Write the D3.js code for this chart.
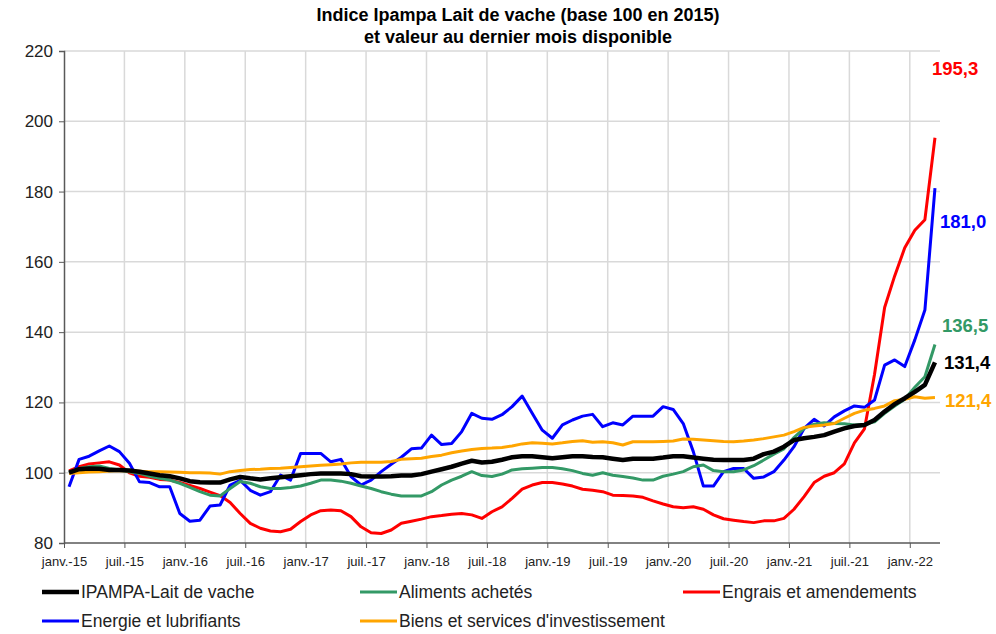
<!DOCTYPE html>
<html>
<head>
<meta charset="utf-8">
<script src="https://cdn.jsdelivr.net/npm/d3@7/dist/d3.min.js"></script>
<style>
  body { margin: 0; background: #fff; }
  text { font-family: "Liberation Sans", Arial, sans-serif; }
</style>
</head>
<body>
<div id="chart-area"></div>
<script>
// Monthly categories, janv. 2015 -> mars 2022
const months = d3.range(87).map(i => `${2015 + Math.floor(i / 12)}-${(i % 12) + 1}`);
const tickLabels = ["janv.-15", "juil.-15", "janv.-16", "juil.-16", "janv.-17", "juil.-17", "janv.-18",
  "juil.-18", "janv.-19", "juil.-19", "janv.-20", "juil.-20", "janv.-21", "juil.-21", "janv.-22"];
const yTicks = [80, 100, 120, 140, 160, 180, 200, 220];

const ipampa = [100, 101, 101.2, 101.1, 100.8, 100.8, 100.6, 100.3, 99.8, 99.3, 99, 98.4,
  97.6, 97.3, 97.2, 97.2, 98.1, 98.8, 98.4, 98.1, 98.4, 98.7, 99, 99.3,
  99.6, 99.8, 99.8, 99.8, 99.6, 99, 98.9, 98.9, 99, 99.2, 99.2, 99.6,
  100.3, 101, 101.7, 102.6, 103.4, 102.9, 103.1, 103.7, 104.4, 104.7, 104.7, 104.4,
  104.1, 104.4, 104.7, 104.7, 104.5, 104.4, 104, 103.6, 104, 104, 104, 104.3,
  104.7, 104.7, 104.3, 104, 103.7, 103.6, 103.6, 103.6, 104, 105.3, 106, 107.4,
  109.3, 109.8, 110.2, 110.7, 111.7, 112.6, 113.3, 113.6, 115, 117.4, 119.5, 121.2,
  123, 125, 131.4];
const aliments = [100, 101.2, 101.7, 101.9, 101.2, 100.8, 100.3, 99.8, 99, 98.4, 97.9, 97,
  95.8, 94.6, 93.6, 93.4, 95.5, 97.5, 97, 96, 95.5, 95.5, 95.8, 96.2,
  97, 97.9, 97.9, 97.6, 97, 96.2, 95.5, 94.6, 93.9, 93.4, 93.4, 93.4,
  94.6, 96.5, 97.9, 99, 100.3, 99.2, 98.9, 99.6, 100.8, 101.1, 101.3, 101.5,
  101.5, 101.1, 100.6, 99.8, 99.3, 100, 99.3, 98.9, 98.5, 97.9, 97.9, 99,
  99.6, 100.3, 101.7, 102.2, 100.6, 100.3, 100.3, 100.8, 102, 103.6, 105.3, 106.8,
  110, 112.6, 113.8, 114.2, 114, 113.9, 113.6, 113.8, 114.5, 116.9, 119, 120.9,
  124.3, 127.3, 136.5];
const engrais = [100.5, 101.7, 102.5, 102.8, 103.1, 102.2, 100, 99, 98.7, 98.1, 97.9, 97.2,
  96.4, 95.5, 94.5, 93.5, 91.5, 88.4, 85.6, 84.2, 83.4, 83.2, 83.9, 86.1,
  88, 89.2, 89.4, 89.2, 87.5, 84.6, 82.9, 82.7, 83.7, 85.6, 86.2, 86.8,
  87.5, 87.8, 88.2, 88.4, 88, 87, 88.9, 90.3, 92.7, 95.3, 96.5, 97.2,
  97.2, 96.8, 96.2, 95.3, 95, 94.6, 93.6, 93.5, 93.4, 93, 92, 91.1,
  90.3, 90, 90.3, 89.6, 88, 86.9, 86.5, 86.1, 85.8, 86.3, 86.3, 87,
  89.6, 93.2, 97.2, 99, 100, 102.5, 108.5, 112.5, 128, 147, 156, 164,
  169, 172, 195.3];
const energie = [96, 103.8, 104.7, 106.2, 107.6, 106, 102.7, 97.4, 97.2, 96, 96, 88.4,
  86.2, 86.5, 90.5, 90.8, 96.5, 97.8, 95, 93.6, 94.6, 99.3, 97.9, 105.5,
  105.5, 105.5, 103.1, 103.8, 98.9, 96.5, 97.9, 100.3, 102.4, 104.4, 106.8, 107,
  110.7, 108, 108.3, 111.7, 116.9, 115.5, 115.2, 116.5, 118.8, 121.8, 116.9, 112.1,
  109.8, 113.6, 115, 116.1, 116.6, 113.1, 114.2, 113.6, 116.1, 116.1, 116.1, 118.8,
  118, 114, 106, 96.2, 96.2, 100.3, 101.2, 101.2, 98.4, 98.8, 100.3, 103.6,
  107.4, 112.6, 115.2, 113.3, 115.9, 117.6, 119, 118.6, 120.7, 130.6, 132.1, 130.2,
  137.8, 146.3, 181];
const biens = [99.8, 100, 100.2, 100.3, 100.5, 100.6, 100.5, 100.4, 100.3, 100.3, 100.2, 100.1,
  100, 100, 99.9, 99.6, 100.3, 100.6, 100.9, 101, 101.2, 101.3, 101.5, 101.7,
  101.9, 102.1, 102.3, 102.5, 102.8, 103, 103, 103, 103.2, 103.8, 104, 104.1,
  104.6, 105, 105.7, 106.2, 106.6, 106.9, 107, 107.2, 107.6, 108.2, 108.5, 108.4,
  108.2, 108.5, 108.9, 109.1, 108.7, 108.8, 108.5, 107.9, 108.8, 108.8, 108.8, 108.9,
  109, 109.6, 109.5, 109.3, 109.1, 108.9, 108.8, 109, 109.3, 109.7, 110.2, 110.7,
  111.7, 112.9, 113.3, 113.6, 114, 115.5, 116.9, 117.8, 118.3, 119, 120.5, 120.9,
  121.6, 121.2, 121.4];

const seriesNames = ["IPAMPA-Lait de vache", "Aliments achetés", "Engrais et amendements",
  "Energie et lubrifiants", "Biens et services d'investissement"];
const seriesValues = [ipampa, aliments, engrais, energie, biens];
const lastLabels = ["131,4", "136,5", "195,3", "181,0", "121,4"];

// styles, drawing order and label / legend placement
const colors = ["#000000", "#339966", "#ff0000", "#0000ff", "#ffa500"];
const widths = [4.5, 3, 3, 3, 3];
const drawOrder = [2, 3, 1, 4, 0];
const labelOffset = [[9, 0], [7, -19], [-3, -69], [5, 33], [10, 3]];
const legendPos = [[42, 592], [360, 592], [683, 592], [42, 621], [360, 621]];

const W = 996, H = 634;
const plotLeft = 64, plotRight = 940, plotTop = 51, plotBottom = 543;

const svg = d3.select("#chart-area").append("svg")
  .attr("width", W)
  .attr("height", H);

const x = d3.scaleBand().domain(months).range([plotLeft, plotRight]).padding(0);
const y = d3.scaleLinear().domain([80, 220]).range([plotBottom, plotTop]);
const cx = m => x(m) + x.bandwidth() / 2;

// title
svg.append("text")
  .attr("x", 518).attr("y", 21)
  .attr("text-anchor", "middle")
  .style("font-weight", "bold").style("font-size", "18px")
  .text("Indice Ipampa Lait de vache (base 100 en 2015)");
svg.append("text")
  .attr("x", 518).attr("y", 43)
  .attr("text-anchor", "middle")
  .style("font-weight", "bold").style("font-size", "18px")
  .text("et valeur au dernier mois disponible");

// gridlines
const tickMonths = months.filter((m, i) => i % 6 === 0);
svg.append("g").selectAll("line")
  .data(yTicks.slice(1))
  .join("line")
  .attr("x1", plotLeft).attr("x2", plotRight)
  .attr("y1", d => y(d)).attr("y2", d => y(d))
  .attr("stroke", "#d9d9d9").attr("stroke-width", 1.5);
svg.append("g").selectAll("line")
  .data(tickMonths.slice(1))
  .join("line")
  .attr("x1", d => x(d)).attr("x2", d => x(d))
  .attr("y1", plotTop).attr("y2", plotBottom)
  .attr("stroke", "#d9d9d9").attr("stroke-width", 1.5);

// y axis
const yAxis = svg.append("g")
  .attr("transform", `translate(${plotLeft},0)`)
  .call(d3.axisLeft(y).tickValues(yTicks).tickSize(5).tickPadding(6));
yAxis.select(".domain").attr("stroke", "#595959").attr("stroke-width", 1.5);
yAxis.selectAll(".tick line").attr("stroke", "#595959");
yAxis.selectAll("text").style("font-size", "17px").attr("fill", "#222")
  .style("font-family", "'Liberation Sans', Arial, sans-serif");

// x axis
const xTickScale = d3.scalePoint().domain(tickMonths)
  .range([x(tickMonths[0]), x(tickMonths[tickMonths.length - 1])]);
const xAxis = svg.append("g")
  .attr("transform", `translate(0,${plotBottom})`)
  .call(d3.axisBottom(xTickScale).tickSize(5).tickPadding(9)
    .tickFormat((d, i) => tickLabels[i]));
xAxis.select(".domain").remove();
svg.append("line")
  .attr("x1", plotLeft).attr("x2", plotRight)
  .attr("y1", plotBottom).attr("y2", plotBottom)
  .attr("stroke", "#595959").attr("stroke-width", 1.5);
xAxis.selectAll(".tick line").attr("stroke", "#595959");
xAxis.selectAll("text").style("font-size", "13px").attr("fill", "#222")
  .style("font-family", "'Liberation Sans', Arial, sans-serif");

// lines
const line = d3.line()
  .x((d, i) => cx(months[i]))
  .y(d => y(d));

drawOrder.forEach(k => {
  svg.append("path")
    .datum(seriesValues[k])
    .attr("fill", "none")
    .attr("stroke", colors[k])
    .attr("stroke-width", widths[k])
    .attr("stroke-linejoin", "round")
    .attr("d", line);
});

// last value labels
seriesValues.forEach((vals, k) => {
  const last = months.length - 1;
  svg.append("text")
    .attr("x", cx(months[last]) + labelOffset[k][0])
    .attr("y", y(vals[last]) + labelOffset[k][1])
    .attr("dy", "0.35em")
    .style("font-weight", "bold").style("font-size", "18.5px")
    .attr("fill", colors[k])
    .text(lastLabels[k]);
});

// legend
seriesNames.forEach((name, k) => {
  const [lx, ly] = legendPos[k];
  svg.append("line")
    .attr("x1", lx).attr("x2", lx + 37)
    .attr("y1", ly).attr("y2", ly)
    .attr("stroke", colors[k])
    .attr("stroke-width", widths[k]);
  svg.append("text")
    .attr("x", lx + 39).attr("y", ly)
    .attr("dy", "0.35em")
    .style("font-size", "17.5px")
    .attr("fill", "#222")
    .text(name);
});
</script>
</body>
</html>
